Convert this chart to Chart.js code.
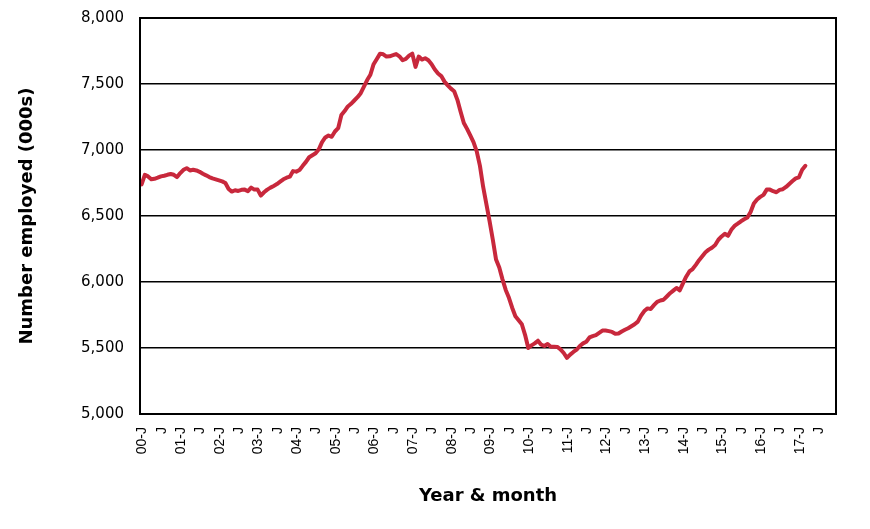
<!DOCTYPE html>
<html>
<head>
<meta charset="utf-8">
<script src="https://cdn.jsdelivr.net/npm/chart.js@4"></script>
<style>
  html, body { margin: 0; padding: 0; background: #fff; }
  #wrap { width: 870px; height: 529px; position: relative; }
</style>
</head>
<body>
<div id="wrap"><canvas id="c"></canvas></div>
<script>
// Category axis: Jan 2000 .. Dec 2017 (monthly)
const years = ['00','01','02','03','04','05','06','07','08','09','10','11','12','13','14','15','16','17'];
const monthLetters = ['J','F','M','A','M','J','J','A','S','O','N','D'];

// Shown tick labels (every 6th month)
const tickLabels = ['00-J','J','01-J','J','02-J','J','03-J','J','04-J','J','05-J','J','06-J','J','07-J','J','08-J','J','09-J','J','10-J','J','11-J','J','12-J','J','13-J','J','14-J','J','15-J','J','16-J','J','17-J','J'];

// Number employed (000s), monthly from Jan 2000
const employed = [
  6740,6812,6800,6778,6782,6790,6800,6805,6812,6818,6812,6795,
  6825,6850,6862,6845,6850,6845,6835,6820,6808,6795,6785,6778,
  6770,6762,6750,6705,6685,6695,6690,6698,6700,6688,6715,6700,
  6700,6655,6680,6700,6715,6728,6742,6760,6778,6790,6798,6840,
  6836,6848,6880,6910,6945,6960,6975,7005,7060,7095,7110,7100,
  7140,7165,7265,7295,7330,7350,7375,7400,7430,7480,7530,7570,
  7650,7690,7730,7725,7708,7710,7718,7727,7710,7680,7690,7715,
  7730,7630,7708,7685,7695,7680,7650,7610,7580,7560,7518,7490,
  7465,7445,7380,7290,7205,7160,7110,7060,6990,6880,6720,6590,
  6460,6320,6170,6110,6020,5940,5880,5805,5740,5710,5680,5600,
  5500,5520,5535,5555,5525,5515,5530,5510,5510,5508,5490,5462,
  5425,5450,5470,5487,5515,5535,5548,5580,5590,5598,5615,5632,
  5632,5628,5622,5608,5610,5625,5638,5650,5665,5680,5700,5745,
  5780,5800,5796,5825,5850,5860,5866,5890,5915,5935,5955,5937,
  5990,6040,6080,6098,6130,6165,6195,6225,6245,6260,6280,6320,
  6345,6365,6350,6395,6425,6442,6460,6475,6488,6530,6595,6625,
  6645,6660,6700,6700,6688,6680,6698,6703,6720,6743,6765,6785,
  6793,6850,6880
];

const categories = [];
years.forEach(y => monthLetters.forEach(m => categories.push(y + '-' + m)));

const framePlugin = {
  id: 'frame',
  afterDatasetsDraw(chart) {
    const a = chart.chartArea, ctx = chart.ctx;
    ctx.save();
    ctx.strokeStyle = '#000';
    ctx.lineWidth = 2;
    ctx.strokeRect(a.left, a.top, a.right - a.left, a.bottom - a.top);
    ctx.restore();
  }
};

new Chart(document.getElementById('c'), {
  type: 'line',
  data: {
    labels: categories,
    datasets: [{
      data: employed,
      borderColor: '#C8283C',
      borderWidth: 4,
      pointRadius: 0,
      tension: 0,
      borderCapStyle: 'round',
      borderJoinStyle: 'round',
      fill: false
    }]
  },
  options: {
    responsive: true,
    maintainAspectRatio: false,
    animation: false,
    layout: { padding: { left: 0, right: 34, top: 18, bottom: 0 } },
    plugins: { legend: { display: false }, tooltip: { enabled: false } },
    scales: {
      x: {
        type: 'category',
        offset: true,
        grid: { display: false, drawTicks: false },
        border: { display: false },
        ticks: {
          autoSkip: false,
          maxRotation: 90,
          minRotation: 90,
          padding: 13,
          labelOffset: 1,
          color: '#000',
          font: { family: 'Liberation Sans', size: 14 },
          callback: (v, i) => (i % 6 === 0 ? tickLabels[i / 6] : '')
        },
        title: {
          display: true,
          text: 'Year & month',
          color: '#000',
          font: { family: 'DejaVu Sans', size: 18, weight: 'bold' },
          padding: { top: 0, bottom: 22 }
        },
        afterFit: s => { s.height = 115; }
      },
      y: {
        min: 5000,
        max: 8000,
        grid: { color: '#000', lineWidth: 1.5, drawTicks: false },
        border: { display: false },
        ticks: {
          stepSize: 500,
          padding: 16,
          color: '#000',
          font: { family: 'DejaVu Sans', size: 15 },
          callback: v => v.toLocaleString('en-US')
        },
        title: {
          display: true,
          text: 'Number employed (000s)',
          color: '#000',
          font: { family: 'DejaVu Sans', size: 18, weight: 'bold' },
          padding: { top: 17, bottom: 0 }
        },
        afterFit: s => { s.width = 140; s.paddingTop = 0; s.paddingBottom = 0; }
      }
    }
  },
  plugins: [framePlugin]
});
</script>
</body>
</html>
